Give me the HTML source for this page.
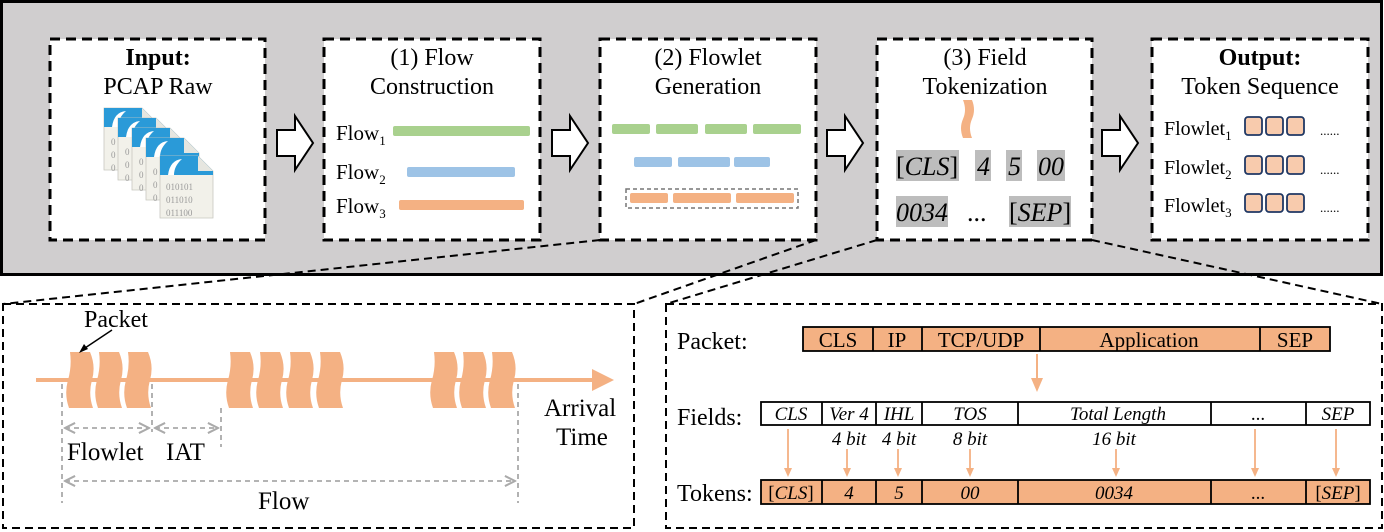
<!DOCTYPE html>
<html><head><meta charset="utf-8"><style>
html,body{margin:0;padding:0;background:#fff}
svg{display:block}
text{font-family:"Liberation Serif",serif;fill:#000}
</style></head><body>
<svg width="1384" height="532" viewBox="0 0 1384 532" xmlns="http://www.w3.org/2000/svg">
<defs>
<g id="doc">
<path d="M0 0 H38 L53 15 V62 H0 Z" fill="#f2f1ea" stroke="#c8c8c0" stroke-width="0.8"/>
<path d="M0 0 H38 L53 15 V19 H0 Z" fill="#2a9ad8"/>
<path d="M8 19 Q10 4 22 3 Q14 10 14 19 Z" fill="#fff"/>
<path d="M38 0 V15 H53 Z" fill="#e6e6e0"/>
</g>
<marker id="ga" viewBox="0 0 10 10" refX="9" refY="5" markerWidth="7" markerHeight="7" orient="auto-start-reverse"><path d="M1 1 L9 5 L1 9" fill="none" stroke="#aaa" stroke-width="1.6"/></marker>
<g id="pk"><path d="M4 0 H24 Q30 14 26 28 Q22 42 27 56 H3 Q-2 42 2 28 Q6 14 4 0 Z" fill="#f4b183"/></g>
</defs>

<rect x="1.5" y="1.5" width="1380" height="273" fill="#d0cecf" stroke="#000" stroke-width="3"/>

<g fill="#fff" stroke="#000" stroke-width="3" stroke-dasharray="10,6">
<rect x="50" y="39" width="215" height="201"/>
<rect x="324" y="39" width="216" height="201"/>
<rect x="600" y="39" width="216" height="201"/>
<rect x="877" y="39" width="215" height="201"/>
<rect x="1152" y="39" width="216" height="201"/>
</g>

<g fill="#fff" stroke="#000" stroke-width="2">
<path d="M277 130 H295 V116 L313 143 L295 170 V156 H277 Z"/>
<path d="M552 130 H570 V116 L588 143 L570 170 V156 H552 Z"/>
<path d="M827 130 H845 V116 L863 143 L845 170 V156 H827 Z"/>
<path d="M1102 130 H1120 V116 L1138 143 L1120 170 V156 H1102 Z"/>
</g>

<g font-size="24" text-anchor="middle">
<text x="158" y="65" font-weight="bold">Input:</text>
<text x="158" y="94">PCAP Raw</text>
<text x="432" y="65">(1) Flow</text>
<text x="432" y="94">Construction</text>
<text x="708" y="65">(2) Flowlet</text>
<text x="708" y="94">Generation</text>
<text x="985" y="65">(3) Field</text>
<text x="985" y="94">Tokenization</text>
<text x="1260" y="65" font-weight="bold">Output:</text>
<text x="1260" y="94">Token Sequence</text>
</g>

<use href="#doc" x="104" y="108"/>
<use href="#doc" x="118" y="118"/>
<use href="#doc" x="132" y="128"/>
<use href="#doc" x="146" y="138"/>
<use href="#doc" x="160" y="156"/>
<g font-family="Liberation Mono,monospace" font-size="9">
<text x="111" y="145" style="fill:#999">0</text><text x="111" y="158" style="fill:#999">0</text><text x="111" y="171" style="fill:#999">0</text>
<text x="125" y="155" style="fill:#999">0</text><text x="125" y="168" style="fill:#999">0</text><text x="125" y="181" style="fill:#999">0</text>
<text x="139" y="165" style="fill:#999">0</text><text x="139" y="178" style="fill:#999">0</text><text x="139" y="191" style="fill:#999">0</text>
<text x="153" y="175" style="fill:#999">0</text><text x="153" y="188" style="fill:#999">0</text><text x="153" y="201" style="fill:#999">0</text>
<text x="166" y="190" style="fill:#999">010101</text><text x="166" y="203" style="fill:#999">011010</text><text x="166" y="216" style="fill:#999">011100</text>
</g>

<g font-size="21">
<text x="336" y="140">Flow<tspan font-size="13" dy="5">1</tspan></text>
<text x="336" y="179">Flow<tspan font-size="13" dy="5">2</tspan></text>
<text x="336" y="213">Flow<tspan font-size="13" dy="5">3</tspan></text>
</g>
<rect x="393" y="126" width="137" height="10" rx="2" fill="#a9d18e"/>
<rect x="407" y="167" width="108" height="10" rx="2" fill="#9dc3e6"/>
<rect x="399" y="200" width="125" height="10" rx="2" fill="#f4b183"/>

<g fill="#a9d18e"><rect x="612" y="124" width="38" height="10" rx="2"/><rect x="656" y="124" width="42" height="10" rx="2"/><rect x="705" y="124" width="42" height="10" rx="2"/><rect x="753" y="124" width="48" height="10" rx="2"/></g>
<g fill="#9dc3e6"><rect x="634" y="157" width="38" height="10" rx="2"/><rect x="678" y="157" width="52" height="10" rx="2"/><rect x="734" y="157" width="36" height="10" rx="2"/></g>
<rect x="626" y="189" width="172" height="19" fill="none" stroke="#777" stroke-width="1.5" stroke-dasharray="4,3"/>
<g fill="#f4b183"><rect x="630" y="193" width="38" height="10" rx="2"/><rect x="673" y="193" width="58" height="10" rx="2"/><rect x="736" y="193" width="58" height="10" rx="2"/></g>

<path d="M963 100 H972 Q976 110 972 119 Q968 128 972 138 H963 Q959 128 963 119 Q967 110 963 100 Z" fill="#f4b183"/>
<g fill="#bdbdbd">
<rect x="896" y="150" width="63" height="31"/><rect x="975" y="150" width="16" height="31"/><rect x="1006" y="150" width="16" height="31"/><rect x="1037" y="150" width="28" height="31"/>
<rect x="896" y="196" width="52" height="31"/><rect x="1009" y="196" width="62" height="31"/>
</g>
<g font-size="26" font-style="italic">
<text x="896" y="175"><tspan font-style="normal">[</tspan>CLS<tspan font-style="normal">]</tspan></text>
<text x="977" y="175">4</text><text x="1008" y="175">5</text><text x="1038" y="175">00</text>
<text x="896" y="221">0034</text>
<text x="967" y="221" font-style="normal">...</text>
<text x="1009" y="221"><tspan font-style="normal">[</tspan>SEP<tspan font-style="normal">]</tspan></text>
</g>

<g font-size="20">
<text x="1164" y="135">Flowlet<tspan font-size="13" dy="5">1</tspan></text>
<text x="1164" y="174">Flowlet<tspan font-size="13" dy="5">2</tspan></text>
<text x="1164" y="212">Flowlet<tspan font-size="13" dy="5">3</tspan></text>
<text x="1320" y="135" font-size="13">......</text>
<text x="1320" y="174" font-size="13">......</text>
<text x="1320" y="212" font-size="13">......</text>
</g>
<g fill="#f8cbad" stroke="#203864" stroke-width="1.8">
<rect x="1245" y="117" width="17" height="18" rx="3"/><rect x="1266" y="117" width="17" height="18" rx="3"/><rect x="1287" y="117" width="17" height="18" rx="3"/>
<rect x="1245" y="156" width="17" height="18" rx="3"/><rect x="1266" y="156" width="17" height="18" rx="3"/><rect x="1287" y="156" width="17" height="18" rx="3"/>
<rect x="1245" y="194" width="17" height="18" rx="3"/><rect x="1266" y="194" width="17" height="18" rx="3"/><rect x="1287" y="194" width="17" height="18" rx="3"/>
</g>

<g stroke="#000" stroke-width="2" stroke-dasharray="8,5" fill="none">
<line x1="600" y1="240" x2="3" y2="304"/>
<line x1="816" y1="240" x2="634" y2="304"/>
<line x1="877" y1="240" x2="666" y2="304"/>
<line x1="1092" y1="240" x2="1382" y2="304"/>
<rect x="3" y="304" width="631" height="224"/>
<rect x="666" y="304" width="716" height="224"/>
</g>

<line x1="36" y1="380" x2="596" y2="380" stroke="#f4b183" stroke-width="4"/>
<path d="M592 369 L614 380 L592 391 Z" fill="#f4b183"/>
<use href="#pk" x="66" y="352"/><use href="#pk" x="95" y="352"/><use href="#pk" x="124" y="352"/>
<use href="#pk" x="226" y="352"/><use href="#pk" x="256" y="352"/><use href="#pk" x="286" y="352"/><use href="#pk" x="316" y="352"/>
<use href="#pk" x="430" y="352"/><use href="#pk" x="459" y="352"/><use href="#pk" x="488" y="352"/>
<text x="84" y="327" font-size="24">Packet</text>
<line x1="112" y1="330" x2="82" y2="350" stroke="#000" stroke-width="1.5"/>
<path d="M79 353 L84 344 L88 349 Z" fill="#000"/>
<g stroke="#999" stroke-width="1.5" stroke-dasharray="5,4">
<line x1="62" y1="384" x2="62" y2="503"/>
<line x1="152" y1="384" x2="152" y2="432"/>
<line x1="221" y1="408" x2="221" y2="447"/>
<line x1="518" y1="384" x2="518" y2="503"/>
</g>
<g stroke="#aaa" stroke-width="1.8" stroke-dasharray="5,4">
<line x1="65" y1="428" x2="149" y2="428" marker-start="url(#ga)" marker-end="url(#ga)"/>
<line x1="155" y1="428" x2="218" y2="428" marker-start="url(#ga)" marker-end="url(#ga)"/>
<line x1="65" y1="481" x2="515" y2="481" marker-start="url(#ga)" marker-end="url(#ga)"/>
</g>
<g font-size="25">
<text x="67" y="460">Flowlet</text>
<text x="166" y="460">IAT</text>
<text x="258" y="509">Flow</text>
<text x="544" y="416">Arrival</text>
<text x="556" y="445">Time</text>
</g>

<g font-size="24">
<text x="677" y="349">Packet:</text>
<text x="677" y="425">Fields:</text>
<text x="677" y="501">Tokens:</text>
</g>
<g stroke="#000" stroke-width="1.8" fill="#f4b183">
<rect x="803" y="327" width="527" height="24"/>
<line x1="873" y1="327" x2="873" y2="351"/><line x1="922" y1="327" x2="922" y2="351"/><line x1="1040" y1="327" x2="1040" y2="351"/><line x1="1260" y1="327" x2="1260" y2="351"/>
</g>
<g font-size="21" text-anchor="middle">
<text x="838" y="347">CLS</text><text x="897" y="347">IP</text><text x="981" y="347">TCP/UDP</text><text x="1149" y="347">Application</text><text x="1295" y="347">SEP</text>
</g>
<line x1="1037" y1="354" x2="1037" y2="380" stroke="#f4b183" stroke-width="2"/>
<path d="M1031 378 L1043 378 L1037 392 Z" fill="#f4b183"/>

<g stroke="#000" stroke-width="1.8" fill="#fff">
<rect x="761" y="402" width="609" height="23"/>
<line x1="822" y1="402" x2="822" y2="425"/><line x1="876" y1="402" x2="876" y2="425"/><line x1="922" y1="402" x2="922" y2="425"/><line x1="1018" y1="402" x2="1018" y2="425"/><line x1="1211" y1="402" x2="1211" y2="425"/><line x1="1306" y1="402" x2="1306" y2="425"/>
</g>
<g font-size="19" font-style="italic" text-anchor="middle">
<text x="791" y="420">CLS</text><text x="849" y="420">Ver 4</text><text x="899" y="420">IHL</text><text x="970" y="420">TOS</text><text x="1118" y="420">Total Length</text><text x="1258" y="420" font-style="normal">...</text><text x="1338" y="420">SEP</text>
<text x="849" y="445">4 bit</text><text x="899" y="445">4 bit</text><text x="970" y="445">8 bit</text><text x="1114" y="445">16 bit</text>
</g>
<g stroke="#f4b183" stroke-width="1.8">
<line x1="788" y1="429" x2="788" y2="470"/><line x1="847" y1="449" x2="847" y2="470"/><line x1="898" y1="449" x2="898" y2="470"/><line x1="970" y1="449" x2="970" y2="470"/><line x1="1116" y1="449" x2="1116" y2="470"/><line x1="1255" y1="429" x2="1255" y2="470"/><line x1="1336" y1="429" x2="1336" y2="470"/>
</g>
<g fill="#f4b183">
<path d="M784 468 H792 L788 477 Z"/><path d="M843 468 H851 L847 477 Z"/><path d="M894 468 H902 L898 477 Z"/><path d="M966 468 H974 L970 477 Z"/><path d="M1112 468 H1120 L1116 477 Z"/><path d="M1251 468 H1259 L1255 477 Z"/><path d="M1332 468 H1340 L1336 477 Z"/>
</g>
<g stroke="#000" stroke-width="1.8" fill="#f4b183">
<rect x="761" y="480" width="609" height="24"/>
<line x1="822" y1="480" x2="822" y2="504"/><line x1="876" y1="480" x2="876" y2="504"/><line x1="922" y1="480" x2="922" y2="504"/><line x1="1018" y1="480" x2="1018" y2="504"/><line x1="1211" y1="480" x2="1211" y2="504"/><line x1="1306" y1="480" x2="1306" y2="504"/>
</g>
<g font-size="19" font-style="italic" text-anchor="middle">
<text x="791" y="499"><tspan font-style="normal">[</tspan>CLS<tspan font-style="normal">]</tspan></text><text x="849" y="499">4</text><text x="899" y="499">5</text><text x="970" y="499">00</text><text x="1114" y="499">0034</text><text x="1258" y="499" font-style="normal">...</text><text x="1338" y="499"><tspan font-style="normal">[</tspan>SEP<tspan font-style="normal">]</tspan></text>
</g>
</svg>
</body></html>
